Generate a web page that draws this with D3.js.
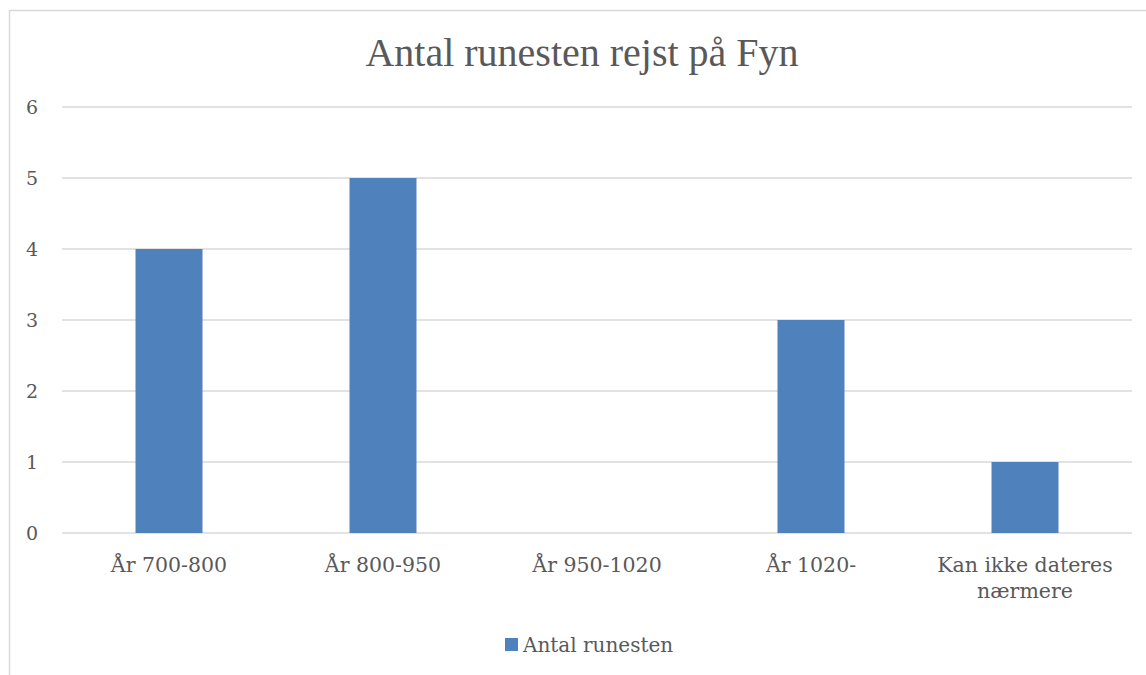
<!DOCTYPE html>
<html>
<head>
<meta charset="utf-8">
<script src="https://cdn.jsdelivr.net/npm/d3@7"></script>
<style>
  body { margin: 0; background: #fff; }
  svg text { font-family: "DejaVu Serif", serif; fill: #595959; }
  svg text.title { font-family: "Liberation Serif", serif; }
</style>
</head>
<body>
<script>
// Data
let categories = ["År 700-800", "År 800-950", "År 950-1020", "År 1020-", "Kan ikke dateres nærmere"];
let values = [4, 5, 0, 3, 1];
let yTicks = [0, 1, 2, 3, 4, 5, 6];
let seriesName = "Antal runesten";
let title = "Antal runesten rejst på Fyn";

let svgWidth = 1146;
let svgHeight = 675;

let margin = { top: 107, right: 14, bottom: 142, left: 62 };
let width = svgWidth - margin.left - margin.right;
let height = svgHeight - margin.top - margin.bottom;

let svg = d3.select("body")
    .append("svg")
    .attr("width", svgWidth)
    .attr("height", svgHeight);

// chart frame (right and bottom edges fall outside the picture)
svg.append("rect")
    .attr("x", 9.5)
    .attr("y", 10.5)
    .attr("width", 1200)
    .attr("height", 700)
    .attr("fill", "none")
    .attr("stroke", "#d9d9d9")
    .attr("stroke-width", 1.5);

svg.append("text")
    .attr("class", "title")
    .attr("x", 582)
    .attr("y", 66)
    .attr("text-anchor", "middle")
    .attr("font-size", "40px")
    .text(title);

let chartGroup = svg.append("g")
    .attr("transform", `translate(${margin.left}, ${margin.top})`);

let xScale = d3.scaleBand()
    .domain(categories)
    .range([0, width])
    .paddingInner(0.687)
    .paddingOuter(0.3435);

let yScale = d3.scaleLinear()
    .domain([0, 6])
    .range([height, 0]);

// gridlines
chartGroup.selectAll(".grid")
    .data(yTicks)
    .enter()
    .append("line")
    .attr("x1", 0)
    .attr("x2", width)
    .attr("y1", d => yScale(d))
    .attr("y2", d => yScale(d))
    .attr("stroke", "#d9d9d9")
    .attr("stroke-width", 1.5);

// bars
chartGroup.selectAll(".bar")
    .data(values)
    .enter()
    .append("rect")
    .attr("x", (d, i) => xScale(categories[i]))
    .attr("y", d => yScale(d))
    .attr("width", xScale.bandwidth())
    .attr("height", d => height - yScale(d))
    .attr("fill", "#4f81bd");

// y axis
let yAxis = d3.axisLeft(yScale).tickValues(yTicks).tickFormat(d3.format("d")).tickSize(0).tickPadding(24);
let yG = chartGroup.append("g").call(yAxis);
yG.select(".domain").remove();
yG.selectAll("text")
    .attr("font-size", "19px")
    .attr("fill", "#595959");

// x axis, wrapping the long label
let xAxis = d3.axisBottom(xScale).tickSize(0).tickPadding(0);
let xG = chartGroup.append("g")
    .attr("transform", `translate(0, ${height})`)
    .call(xAxis);
xG.select(".domain").remove();
xG.selectAll("text").remove();
xG.selectAll(".tick").each(function(d) {
    let t = d3.select(this).append("text")
        .attr("text-anchor", "middle")
        .attr("font-size", "20.5px")
        .attr("fill", "#595959");
    let lines = d === "Kan ikke dateres nærmere" ? ["Kan ikke dateres", "nærmere"] : [d];
    lines.forEach((ln, k) => {
        t.append("tspan").attr("x", 0).attr("y", 39 + k * 26).text(ln);
    });
});

// legend
let legend = svg.append("g").attr("transform", "translate(505, 638)");
legend.append("rect")
    .attr("width", 13)
    .attr("height", 13)
    .attr("fill", "#4f81bd");
legend.append("text")
    .attr("x", 18)
    .attr("y", 14)
    .attr("font-size", "20px")
    .text(seriesName);
</script>
</body>
</html>
